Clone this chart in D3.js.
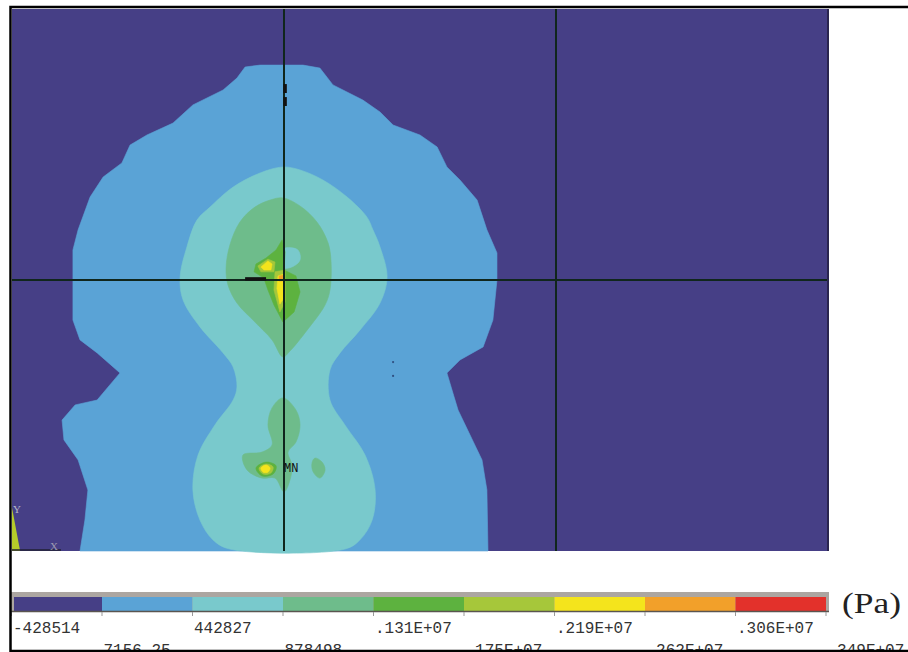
<!DOCTYPE html>
<html>
<head>
<meta charset="utf-8">
<script src="https://cdn.jsdelivr.net/npm/d3@7"></script>
<style>
body { margin: 0; background: #fff; }
svg { display: block; }
</style>
</head>
<body>
<div id="chart"></div>
<script>
// contour level colours and legend values
var levelColors = ["#463f86", "#5aa3d6", "#79c9cc", "#6ebc8b", "#5db23f", "#a6c73a", "#f4e41c", "#f2a02a", "#e3312b"];
var levelLabels = ["-428514", "7156.25", "442827", "878498", ".131E+07", ".175E+07", ".219E+07", ".262E+07", ".306E+07", ".349E+07"];

// band outlines in model units (x 0..3, y 0..2)
var band2 = [[0.250,0],[0.268,0.114],[0.279,0.225],[0.243,0.336],[0.191,0.410],[0.184,0.483],[0.232,0.539],[0.313,0.557],[0.397,0.657],[0.313,0.731],[0.250,0.779],[0.224,0.852],[0.224,1.111],[0.243,1.185],[0.287,1.306],[0.335,1.380],[0.404,1.432],[0.434,1.498],[0.496,1.535],[0.592,1.579],[0.665,1.646],[0.776,1.701],[0.827,1.745],[0.857,1.786],[0.912,1.793],[1.070,1.793],[1.132,1.782],[1.180,1.720],[1.217,1.701],[1.290,1.664],[1.353,1.620],[1.401,1.572],[1.500,1.535],[1.563,1.491],[1.599,1.417],[1.647,1.369],[1.710,1.295],[1.746,1.185],[1.783,1.100],[1.783,1.000],[1.768,0.852],[1.732,0.753],[1.647,0.705],[1.599,0.657],[1.621,0.583],[1.640,0.520],[1.684,0.428],[1.728,0.336],[1.746,0.225],[1.750,0]];
var band3 = [[0.996,1.417],[1.059,1.406],[1.143,1.369],[1.232,1.306],[1.305,1.232],[1.327,1.185],[1.353,1.122],[1.379,1.011],[1.353,0.915],[1.279,0.815],[1.206,0.731],[1.169,0.668],[1.169,0.557],[1.224,0.465],[1.298,0.354],[1.335,0.225],[1.324,0.114],[1.279,0.041],[1.224,0.007],[0.801,0.007],[0.739,0.041],[0.691,0.114],[0.665,0.225],[0.684,0.354],[0.746,0.465],[0.813,0.557],[0.827,0.605],[0.813,0.679],[0.776,0.731],[0.691,0.827],[0.629,0.926],[0.618,1.011],[0.643,1.122],[0.680,1.221],[0.728,1.269],[0.813,1.343],[0.912,1.395]];
var band4Upper = [[0.996,1.303],[1.059,1.273],[1.121,1.214],[1.162,1.137],[1.173,1.066],[1.169,0.963],[1.151,0.908],[1.085,0.815],[1.022,0.738],[0.996,0.716],[0.956,0.779],[0.893,0.845],[0.827,0.915],[0.794,0.982],[0.787,1.044],[0.801,1.129],[0.838,1.214],[0.893,1.269],[0.949,1.295]];
var band3Hole = [[0.967,1.092],[1.004,1.118],[1.051,1.111],[1.059,1.074],[1.029,1.048],[0.985,1.044],[0.963,1.066]];
var band4Lower = [[0.996,0.565],[1.044,0.520],[1.059,0.465],[1.044,0.402],[1.015,0.365],[1.029,0.317],[1.022,0.262],[1.000,0.218],[0.967,0.269],[0.919,0.269],[0.864,0.299],[0.849,0.354],[0.919,0.365],[0.956,0.391],[0.941,0.465],[0.956,0.528]];
var band4Spot = [[1.114,0.343],[1.140,0.328],[1.151,0.299],[1.132,0.269],[1.107,0.292],[1.103,0.325]];
var band5Upper = [[0.993,1.148],[1.004,1.103],[1.000,1.037],[1.044,1.015],[1.059,0.956],[1.037,0.882],[0.996,0.845],[0.963,0.908],[0.941,0.963],[0.926,1.007],[0.890,1.030],[0.897,1.059],[0.934,1.081],[0.971,1.111]];
var band5Lower = [[0.897,0.306],[0.934,0.328],[0.971,0.314],[0.960,0.284],[0.919,0.277]];
var band6Left = [[0.904,1.052],[0.941,1.077],[0.967,1.066],[0.963,1.030],[0.915,1.030]];
var band6Stem = [[0.967,1.030],[1.004,1.037],[1.004,0.919],[0.985,0.882],[0.963,0.963]];
var band6Lower = [[0.908,0.306],[0.934,0.321],[0.960,0.310],[0.952,0.288],[0.923,0.284]];
var band7Left = [[0.915,1.048],[0.941,1.070],[0.956,1.059],[0.952,1.037],[0.926,1.037]];
var band7Stem = [[0.978,1.015],[1.000,1.022],[1.000,0.934],[0.985,0.911],[0.974,0.970]];
var band7Lower = [[0.915,0.306],[0.934,0.317],[0.949,0.306],[0.941,0.291],[0.923,0.291]];
var band8Spot = [[0.982,1.015],[1.000,1.018],[1.000,0.996],[0.982,0.996]];
var specks = [[1.401,0.697],[1.401,0.646]];

var regions = [
  {level: 1, pts: band2, smooth: false},
  {level: 2, pts: band3, smooth: true},
  {level: 3, pts: band4Upper, smooth: true},
  {level: 2, pts: band3Hole, smooth: true},
  {level: 3, pts: band4Lower, smooth: true},
  {level: 3, pts: band4Spot, smooth: true},
  {level: 4, pts: band5Upper, smooth: false},
  {level: 4, pts: band5Lower, smooth: true},
  {level: 5, pts: band6Left, smooth: false},
  {level: 5, pts: band6Stem, smooth: false},
  {level: 5, pts: band6Lower, smooth: true},
  {level: 6, pts: band7Left, smooth: false},
  {level: 6, pts: band7Stem, smooth: false},
  {level: 6, pts: band7Lower, smooth: true},
  {level: 7, pts: band8Spot, smooth: false}
];

var W = 908, H = 652;
var svg = d3.select("#chart").append("svg")
    .attr("width", W)
    .attr("height", H);

svg.append("rect").attr("width", W).attr("height", H).attr("fill", "#fff");

var x = d3.scaleLinear().domain([0, 3]).range([12, 828]);
var y = d3.scaleLinear().domain([0, 2]).range([551, 9]);

var plot = svg.append("g");

// background level
plot.append("rect")
    .attr("x", x(0)).attr("y", y(2))
    .attr("width", x(3) - x(0)).attr("height", y(0) - y(2))
    .attr("fill", levelColors[0]);

var lineSharp = d3.line().x(function(d) { return x(d[0]); }).y(function(d) { return y(d[1]); })
    .curve(d3.curveLinearClosed);
var lineSmooth = d3.line().x(function(d) { return x(d[0]); }).y(function(d) { return y(d[1]); })
    .curve(d3.curveCatmullRomClosed.alpha(0.5));

plot.selectAll("path.band").data(regions).enter()
    .append("path")
    .attr("class", "band")
    .attr("d", function(d) { return d.smooth ? lineSmooth(d.pts) : lineSharp(d.pts); })
    .attr("fill", function(d) { return levelColors[d.level]; })
    .attr("stroke", function(d) { return levelColors[d.level]; })
    .attr("stroke-width", 0.6);

plot.selectAll("circle.speck").data(specks).enter()
    .append("circle")
    .attr("cx", function(d) { return x(d[0]); })
    .attr("cy", function(d) { return y(d[1]); })
    .attr("r", 1.1)
    .attr("fill", "#2f4f80");

// working plane grid lines
var gridX = [1, 2], gridY = [1];
plot.selectAll("line.gx").data(gridX).enter()
    .append("line")
    .attr("x1", function(d) { return x(d); }).attr("x2", function(d) { return x(d); })
    .attr("y1", y(2)).attr("y2", y(0))
    .attr("stroke", "#10261c").attr("stroke-width", 2);
plot.selectAll("line.gy").data(gridY).enter()
    .append("line")
    .attr("x1", x(0)).attr("x2", x(3))
    .attr("y1", function(d) { return y(d); }).attr("y2", function(d) { return y(d); })
    .attr("stroke", "#10261c").attr("stroke-width", 2);

// element edge marks
var marks = [[[1.004, 1.723], [1.004, 1.690]], [[1.004, 1.675], [1.004, 1.642]], [[0.857, 1.004], [0.934, 1.004]]];
plot.selectAll("line.mark").data(marks).enter()
    .append("line")
    .attr("x1", function(d) { return x(d[0][0]); }).attr("y1", function(d) { return y(d[0][1]); })
    .attr("x2", function(d) { return x(d[1][0]); }).attr("y2", function(d) { return y(d[1][1]); })
    .attr("stroke", "#111").attr("stroke-width", 3.5);

// right edge of plot
plot.append("line")
    .attr("x1", x(3)).attr("x2", x(3)).attr("y1", y(2)).attr("y2", y(0))
    .attr("stroke", "#2a2550").attr("stroke-width", 2);

// MN label
plot.append("text")
    .attr("x", x(1.0)).attr("y", y(0.293))
    .attr("font-family", "Liberation Mono, monospace")
    .attr("font-size", 12)
    .attr("fill", "#111")
    .text("MN");

// triad
plot.append("path")
    .attr("d", d3.line()([[x(0), y(0.16)], [x(0), y(0)], [x(0.03), y(0)]]))
    .attr("fill", "#b5cc2a");
plot.append("line")
    .attr("x1", x(0)).attr("x2", x(0.18)).attr("y1", y(0) - 1).attr("y2", y(0) - 1)
    .attr("stroke", "#223").attr("stroke-width", 1.5);
plot.append("text").attr("x", x(0.004)).attr("y", y(0.14))
    .attr("font-family", "Liberation Serif, serif").attr("font-size", 11).attr("fill", "#b8b8c8")
    .text("Y");
plot.append("text").attr("x", x(0.14)).attr("y", y(0.005))
    .attr("font-family", "Liberation Serif, serif").attr("font-size", 11).attr("fill", "#9a9ab0")
    .text("X");

// colour bar
var cb = d3.scaleLinear().domain([0, 9]).range([11.5, 826]);
var bar = svg.append("g");
bar.append("rect")
    .attr("x", 11).attr("y", 592).attr("width", 818).attr("height", 20)
    .attr("fill", "#aca6a1");
bar.selectAll("rect.seg").data(levelColors).enter()
    .append("rect")
    .attr("class", "seg")
    .attr("x", function(d, i) { return Math.max(cb(i), 14); })
    .attr("y", 597)
    .attr("width", function(d, i) { return cb(i + 1) - Math.max(cb(i), 14); })
    .attr("height", 14)
    .attr("fill", function(d) { return d; });
bar.append("line")
    .attr("x1", 11).attr("x2", 829).attr("y1", 611.5).attr("y2", 611.5)
    .attr("stroke", "#5a5550").attr("stroke-width", 1.5);
bar.selectAll("line.tick").data(levelLabels).enter()
    .append("line")
    .attr("x1", function(d, i) { return cb(i); }).attr("x2", function(d, i) { return cb(i); })
    .attr("y1", 612).attr("y2", 616)
    .attr("stroke", "#999").attr("stroke-width", 1);
bar.selectAll("text.lab").data(levelLabels).enter()
    .append("text")
    .attr("x", function(d, i) { return cb(i) + 1.5; })
    .attr("y", function(d, i) { return i % 2 == 0 ? 633 : 655; })
    .attr("font-family", "Liberation Mono, Courier New, monospace")
    .attr("font-size", 16)
    .attr("fill", "#333")
    .text(function(d) { return d; });

svg.append("text")
    .attr("x", 842).attr("y", 613)
    .attr("font-family", "Liberation Serif, Times New Roman, serif")
    .attr("font-size", 29)
    .attr("textLength", 59)
    .attr("lengthAdjust", "spacingAndGlyphs")
    .attr("fill", "#222")
    .text("(Pa)");

// outer frame
svg.append("path")
    .attr("d", "M10.5,652V7H908")
    .attr("fill", "none").attr("stroke", "#000").attr("stroke-width", 2.5);
svg.append("line")
    .attr("x1", 10).attr("x2", 908).attr("y1", 651).attr("y2", 651)
    .attr("stroke", "#000").attr("stroke-width", 2.5);
</script>
</body>
</html>
